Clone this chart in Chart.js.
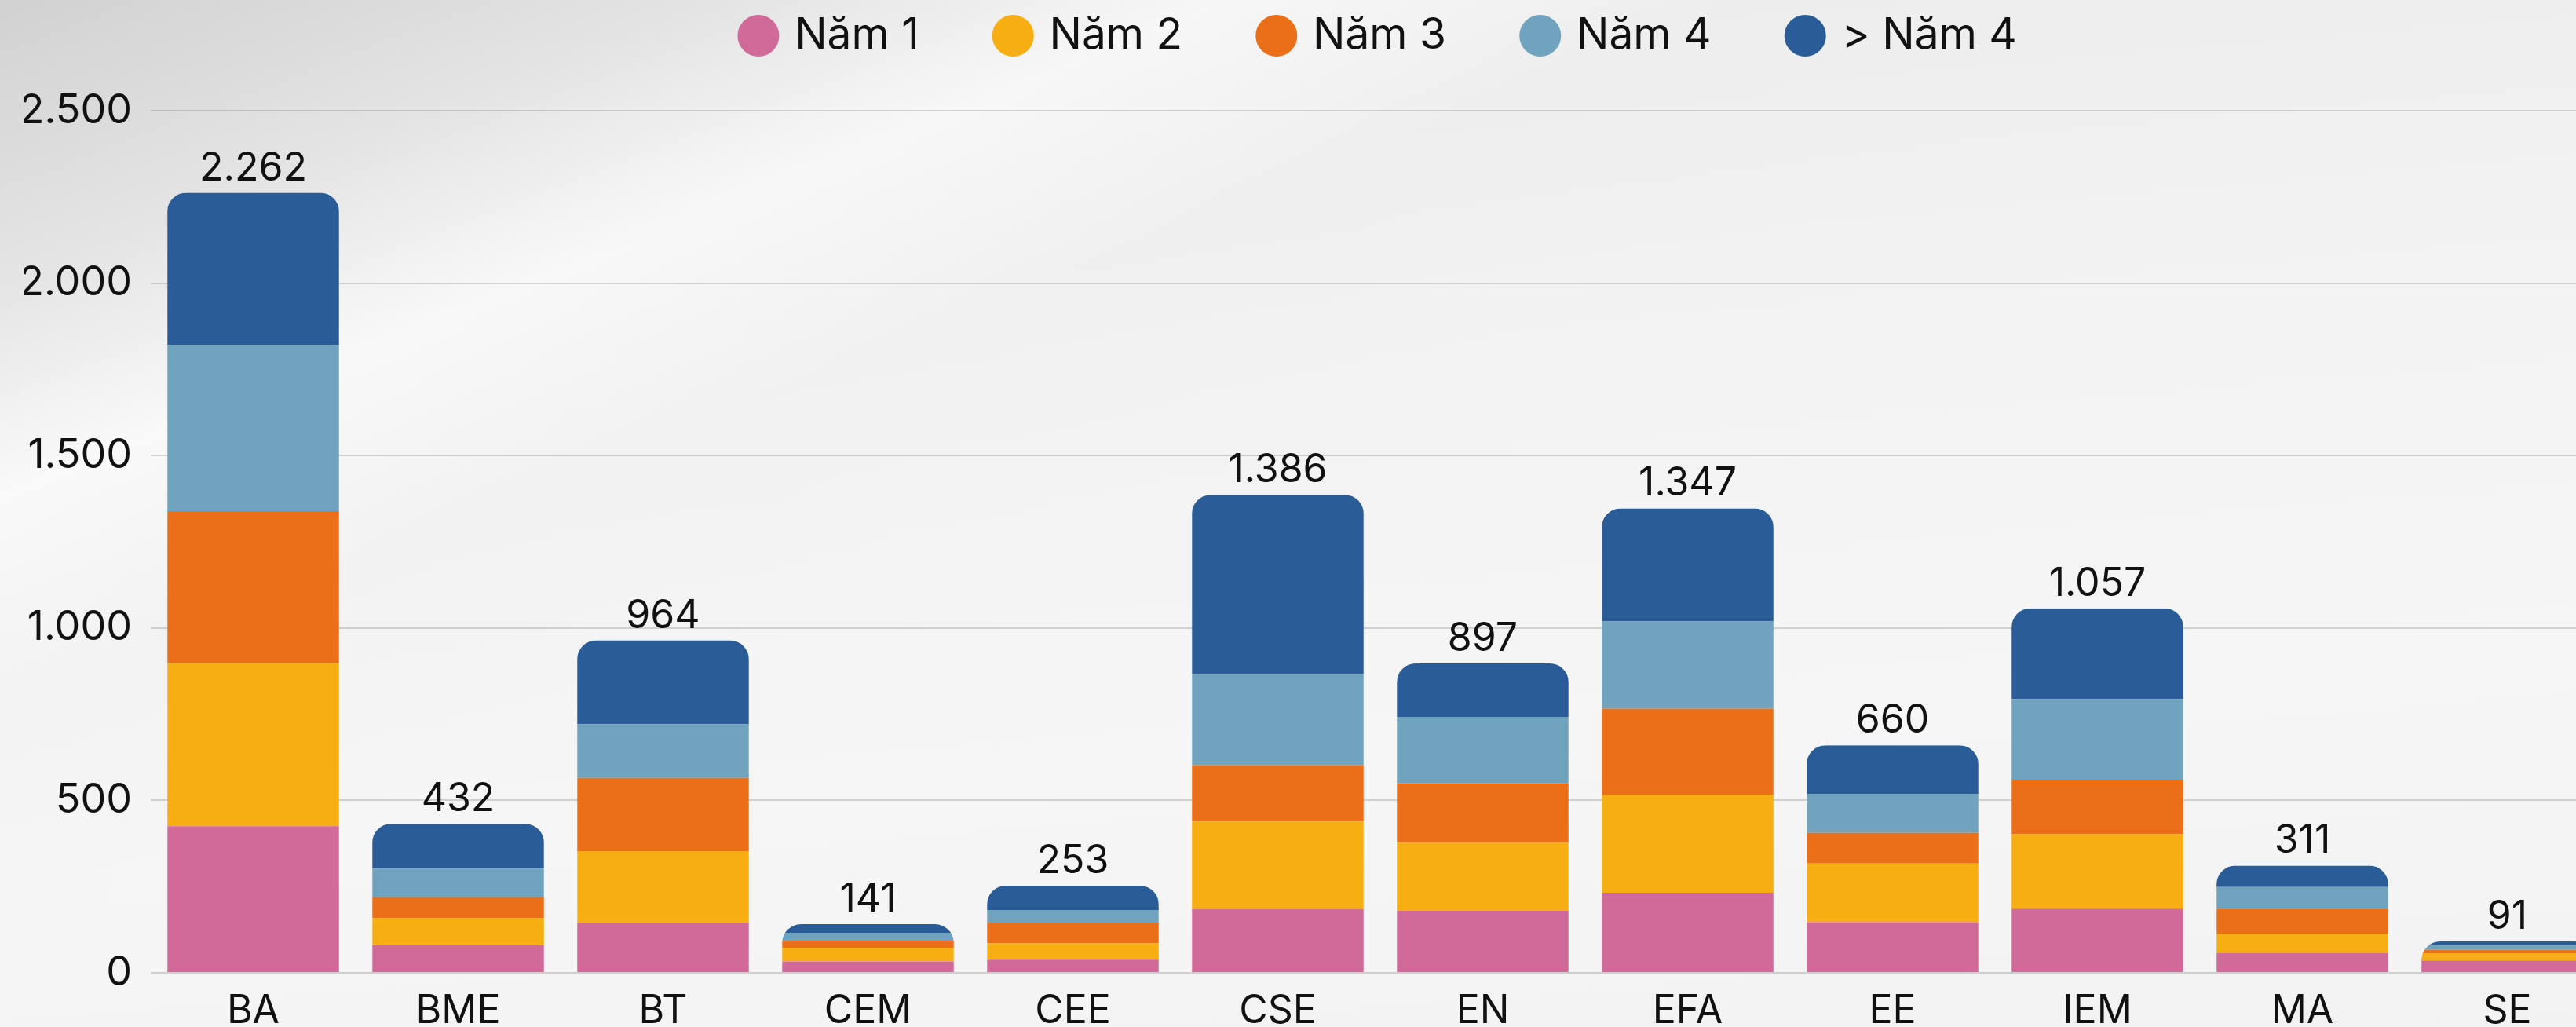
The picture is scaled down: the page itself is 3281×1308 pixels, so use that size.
<!DOCTYPE html>
<html lang="vi">
<head>
<meta charset="utf-8">
<title>Sinh viên theo ngành</title>
<script src="https://cdn.jsdelivr.net/npm/chart.js@4.4.1/dist/chart.umd.min.js"></script>
<style>
  html, body {
    margin: 0;
    padding: 0;
    width: 3281px;
    height: 1308px;
    overflow: hidden;
    background:
      linear-gradient(158deg, rgba(205,205,205,0.85) 0%, rgba(222,222,222,0.6) 14%, rgba(255,255,255,0.55) 24%, rgba(238,238,238,0.3) 34%, rgba(255,255,255,0) 46%),
      linear-gradient(175deg, #ebebeb 0%, #f2f2f2 35%, #f6f6f6 70%, #f2f2f2 100%);
  }
  canvas { display: block; }
</style>
</head>
<body>
<canvas id="chart" width="3496" height="1308"></canvas>
<script>
    const labels = ['BA', 'BME', 'BT', 'CEM', 'CEE', 'CSE', 'EN', 'EFA', 'EE', 'IEM', 'MA', 'SE'];
    const nam1 = [425, 80, 144, 33, 38, 185, 180, 232, 147, 186, 57, 36];
    const nam2 = [473, 79, 209, 40, 48, 254, 197, 285, 170, 216, 57, 21];
    const nam3 = [441, 60, 212, 20, 59, 163, 173, 249, 89, 158, 72, 10];
    const nam4 = [482, 83, 156, 23, 37, 265, 192, 253, 113, 234, 63, 14];
    const tren4 = [441, 130, 243, 25, 71, 519, 155, 328, 141, 263, 62, 10];
    const yTicks = [0, 500, 1000, 1500, 2000, 2500];

    const FONT = 'Inter, "Noto Sans", sans-serif';
    const LEGEND_PAD = 101;
    const LEGEND_TOP = 18 - LEGEND_PAD;
    const LEGEND_H = 141 - LEGEND_TOP;

    const fmt = v => String(v).replace(/\B(?=(\d{3})+(?!\d))/g, '.');

    const totals = labels.map((_, i) => nam1[i] + nam2[i] + nam3[i] + nam4[i] + tren4[i]);

    // legend sits high with wide gaps; keep its box short
    const legendFit = {
        id: 'legendFit',
        beforeInit(chart) {
            const origFit = chart.legend.fit;
            chart.legend.fit = function () {
                origFit.bind(chart.legend)();
                this.height = LEGEND_H;
            };
        }
    };

    // rounded top for the whole stack + total above it
    const stackTop = {
        id: 'stackTop',
        beforeDatasetsDraw(chart) {
            const { ctx, scales: { y } } = chart;
            const meta = chart.getDatasetMeta(chart.data.datasets.length - 1);
            ctx.save();
            ctx.beginPath();
            meta.data.forEach((bar, i) => {
                const top = y.getPixelForValue(totals[i]);
                const base = y.getPixelForValue(0);
                const w = bar.width;
                const r = Math.min(24, (base - top));
                ctx.roundRect(bar.x - w / 2, top, w, base - top, [r, r, 0, 0]);
            });
            ctx.clip();
        },
        afterDatasetsDraw(chart) {
            const { ctx, scales: { y } } = chart;
            ctx.restore();
            const meta = chart.getDatasetMeta(chart.data.datasets.length - 1);
            ctx.save();
            ctx.font = `400 50px ${FONT}`;
            ctx.fillStyle = '#111111';
            ctx.textAlign = 'center';
            ctx.textBaseline = 'alphabetic';
            meta.data.forEach((bar, i) => {
                ctx.fillText(fmt(totals[i]), bar.x, y.getPixelForValue(totals[i]) - 16);
            });
            ctx.restore();
        }
    };

    const makeSet = (label, data, color) => ({
        label,
        data,
        backgroundColor: color,
        borderWidth: 0,
        categoryPercentage: 1,
        barPercentage: 0.838
    });

    new Chart(document.getElementById('chart').getContext('2d'), {
        type: 'bar',
        data: {
            labels,
            datasets: [
                makeSet('Năm 1', nam1, '#D06A98'),
                makeSet('Năm 2', nam2, '#F7AE12'),
                makeSet('Năm 3', nam3, '#EA6F18'),
                makeSet('Năm 4', nam4, '#6FA3BE'),
                makeSet('> Năm 4', tren4, '#2A5C97')
            ]
        },
        options: {
            responsive: false,
            animation: false,
            devicePixelRatio: 1,
            layout: { padding: { top: LEGEND_TOP, left: 30, right: 172, bottom: -21 } },
            plugins: {
                tooltip: { enabled: false },
                legend: {
                    position: 'top',
                    fullSize: false,
                    labels: {
                        usePointStyle: true,
                        pointStyle: 'circle',
                        boxWidth: 37.5,
                        boxHeight: 37.5,
                        padding: LEGEND_PAD,
                        color: '#111111',
                        font: { family: FONT, size: 55 }
                    }
                }
            },
            scales: {
                x: {
                    stacked: true,
                    grid: { display: false },
                    border: { display: false },
                    ticks: {
                        color: '#111111',
                        padding: 16,
                        font: { family: FONT, size: 50, lineHeight: 1 }
                    }
                },
                y: {
                    stacked: true,
                    min: 0,
                    max: 2500,
                    afterFit: scale => { scale.width = 162; },
                    afterBuildTicks: scale => {
                        scale.ticks = yTicks.map(v => ({ value: v }));
                    },
                    grid: {
                        color: 'rgba(0,0,0,0.15)',
                        lineWidth: 2,
                        drawTicks: false
                    },
                    border: { display: false },
                    ticks: {
                        color: '#111111',
                        padding: 24,
                        font: { family: FONT, size: 52 },
                        callback: v => fmt(v)
                    }
                }
            }
        },
        plugins: [legendFit, stackTop]
    });
</script>
</body>
</html>
